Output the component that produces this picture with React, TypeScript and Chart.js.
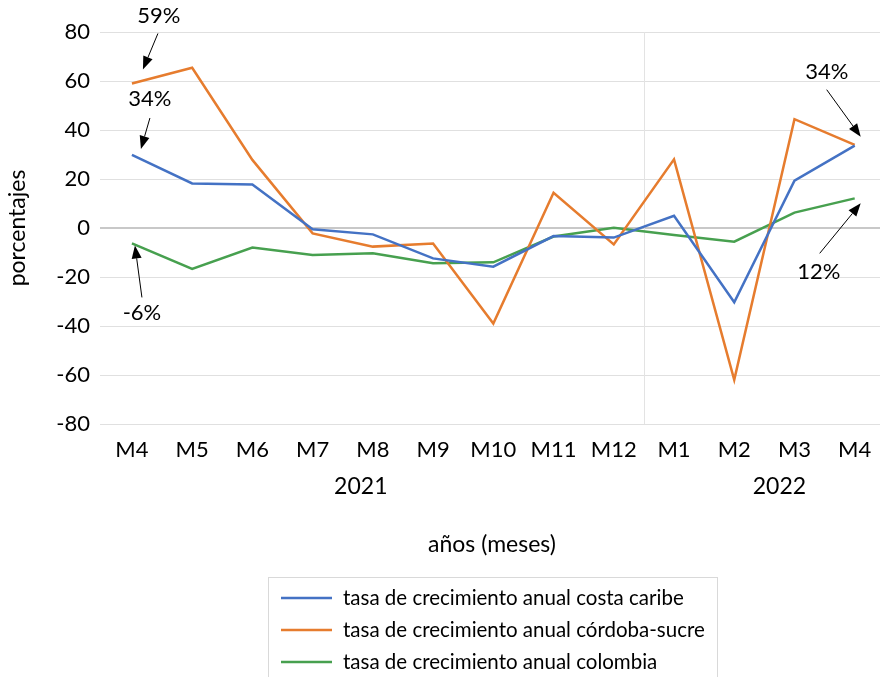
import React, { useEffect, useRef } from "react";
import { Chart, registerables } from "chart.js";

Chart.register(...registerables);

// ---------- data ----------
const categories = ["M4", "M5", "M6", "M7", "M8", "M9", "M10", "M11", "M12", "M1", "M2", "M3", "M4"];
const years = ["2021", "2022"];
const yearCenters = [3.8, 10.75];
const yearSeparator = 8.5;
const costaCaribe = [29.8, 18.2, 17.8, -0.5, -2.6, -12.4, -15.8, -3.3, -3.9, 5.0, -30.3, 19.3, 33.6];
const cordobaSucre = [59.0, 65.4, 27.8, -2.2, -7.6, -6.3, -39.0, 14.4, -6.7, 28.0, -62.0, 44.4, 33.9];
const colombia = [-6.3, -16.7, -8.0, -11.0, -10.3, -14.4, -14.0, -3.5, 0.1, -2.9, -5.6, 6.3, 12.1];
const seriesNames = [
  "tasa de crecimiento anual costa caribe",
  "tasa de crecimiento anual córdoba-sucre",
  "tasa de crecimiento anual colombia",
];
const seriesColors = ["#4472C4", "#E67C2E", "#47A04F"];
const yMin = -80;
const yMax = 80;
const yStep = 20;
const yTitle = "porcentajes";
const xTitle = "años (meses)";

// annotation callouts: text, series, point index, and pixel offsets from that point
const callouts = [
  { text: "59%", series: 1, index: 0, text_d: [27, -68], tail: [26, -50], tip: [11, -14] },
  { text: "34%", series: 0, index: 0, text_d: [18, -56], tail: [18, -37], tip: [9, -6] },
  { text: "-6%", series: 2, index: 0, text_d: [10, 69], tail: [10, 54], tip: [3, 2] },
  { text: "34%", series: 0, index: 12, text_d: [-28, -74], tail: [-28, -56], tip: [6, -9] },
  { text: "12%", series: 2, index: 12, text_d: [-36, 74], tail: [-35, 55], tip: [6, 5] },
];

const FONT = "Lato, 'Open Sans', sans-serif";

function drawArrow(ctx: CanvasRenderingContext2D, x1: number, y1: number, x2: number, y2: number) {
  const ang = Math.atan2(y2 - y1, x2 - x1);
  const headLen = 13;
  const headW = 5;
  const bx = x2 - headLen * Math.cos(ang);
  const by = y2 - headLen * Math.sin(ang);
  ctx.save();
  ctx.strokeStyle = "#000";
  ctx.fillStyle = "#000";
  ctx.lineWidth = 1;
  ctx.beginPath();
  ctx.moveTo(x1, y1);
  ctx.lineTo(bx, by);
  ctx.stroke();
  ctx.beginPath();
  ctx.moveTo(x2, y2);
  ctx.lineTo(bx + headW * Math.sin(ang), by - headW * Math.cos(ang));
  ctx.lineTo(bx - headW * Math.sin(ang), by + headW * Math.cos(ang));
  ctx.closePath();
  ctx.fill();
  ctx.restore();
}

const decorPlugin = {
  id: "decor",
  beforeDatasetsDraw(chart: any) {
    const { ctx, chartArea, scales } = chart;
    const x = Math.round(scales.x.getPixelForValue(yearSeparator)) + 0.5;
    ctx.save();
    ctx.strokeStyle = "#e3e3e3";
    ctx.lineWidth = 1;
    ctx.beginPath();
    ctx.moveTo(x, chartArea.top);
    ctx.lineTo(x, chartArea.bottom);
    ctx.stroke();
    ctx.restore();
  },
  afterDraw(chart: any) {
    const { ctx, chartArea, scales } = chart;
    const xs = scales.x;
    const ys = scales.y;
    ctx.save();
    ctx.fillStyle = "#000";
    ctx.textAlign = "center";
    ctx.textBaseline = "middle";

    // year group labels
    ctx.font = `23px ${FONT}`;
    years.forEach((y, i) => {
      ctx.fillText(y, xs.getPixelForValue(yearCenters[i]), chartArea.bottom + 63);
    });

    // x axis title
    ctx.fillText(xTitle, 492, chartArea.bottom + 121);

    // y axis title
    ctx.save();
    ctx.translate(18, ys.getPixelForValue(0));
    ctx.rotate(-Math.PI / 2);
    ctx.fillText(yTitle, 0, 0);
    ctx.restore();

    // callouts
    const allSeries = [costaCaribe, cordobaSucre, colombia];
    ctx.font = `22px ${FONT}`;
    callouts.forEach((c) => {
      const px = xs.getPixelForValue(c.index);
      const py = ys.getPixelForValue(allSeries[c.series][c.index]);
      ctx.fillText(c.text, px + c.text_d[0], py + c.text_d[1]);
      drawArrow(ctx, px + c.tail[0], py + c.tail[1], px + c.tip[0], py + c.tip[1]);
    });

    // legend box
    const bx = 268.5, by = 577.5, bw = 449, bh = 120;
    ctx.strokeStyle = "#d9d9d9";
    ctx.lineWidth = 1;
    ctx.strokeRect(bx, by, bw, bh);
    ctx.font = `20.5px ${FONT}`;
    ctx.textAlign = "left";
    seriesNames.forEach((name, i) => {
      const ry = 598 + i * 32;
      ctx.strokeStyle = seriesColors[i];
      ctx.lineWidth = 2.5;
      ctx.beginPath();
      ctx.moveTo(281, ry);
      ctx.lineTo(332, ry);
      ctx.stroke();
      ctx.fillStyle = "#000";
      ctx.fillText(name, 343, ry);
    });
    ctx.restore();
  },
};

export default function App() {
  const canvasRef = useRef<HTMLCanvasElement | null>(null);

  useEffect(() => {
    if (!canvasRef.current) return;
    const allSeries = [costaCaribe, cordobaSucre, colombia];
    const yTickValues: number[] = [];
    for (let v = yMin; v <= yMax; v += yStep) yTickValues.push(v);

    const chart = new Chart(canvasRef.current, {
      type: "line",
      data: {
        datasets: allSeries.map((s, si) => ({
          label: seriesNames[si],
          data: s.map((v, i) => ({ x: i, y: v })),
          borderColor: seriesColors[si],
          backgroundColor: seriesColors[si],
          borderWidth: 2.5,
          pointRadius: 0,
          tension: 0,
          fill: false,
        })),
      },
      options: {
        animation: false,
        responsive: false,
        devicePixelRatio: 1,
        layout: { padding: { left: 0, right: 0, top: 32, bottom: 213 } },
        plugins: {
          legend: { display: false },
          tooltip: { enabled: false },
        },
        scales: {
          x: {
            type: "linear",
            min: -0.53,
            max: 12.42,
            grid: { display: false },
            border: { display: false },
            afterBuildTicks: (s: any) => {
              s.ticks = categories.map((_, i) => ({ value: i }));
            },
            afterFit: (s: any) => {
              s.height = 40;
            },
            ticks: {
              autoSkip: false,
              maxRotation: 0,
              minRotation: 0,
              includeBounds: false,
              padding: 5,
              color: "#000",
              font: { family: FONT, size: 22 },
              callback: (v: any) => categories[v as number] ?? "",
            },
          },
          y: {
            min: yMin,
            max: yMax,
            afterBuildTicks: (s: any) => {
              s.ticks = yTickValues.map((v) => ({ value: v }));
            },
            afterFit: (s: any) => {
              s.width = 100;
            },
            border: { display: false },
            grid: {
              color: (c: any) => (c.tick && c.tick.value === 0 ? "#c8c8c8" : "#e0e0e0"),
              lineWidth: (c: any) => (c.tick && c.tick.value === 0 ? 2 : 1),
              drawTicks: false,
            },
            ticks: {
              padding: 10,
              color: "#000",
              font: { family: FONT, size: 22 },
            },
          },
        },
      },
      plugins: [decorPlugin],
    });
    return () => chart.destroy();
  }, []);

  return (
    <div style={{ position: "fixed", left: 0, top: 0, width: 880, height: 677, background: "#fff" }}>
      <canvas ref={canvasRef} width={880} height={677} />
    </div>
  );
}
